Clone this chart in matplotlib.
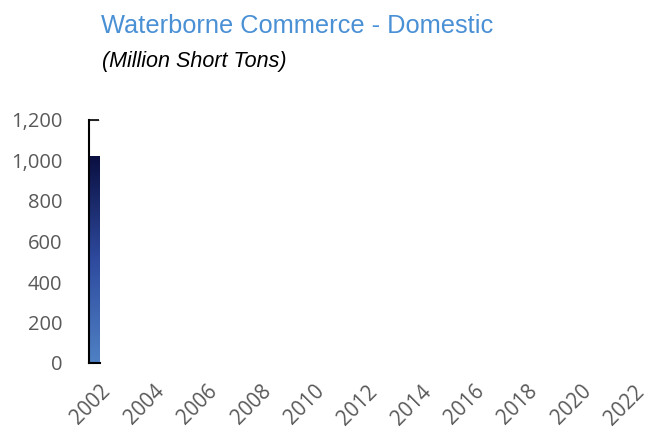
import numpy as np
import matplotlib
matplotlib.use("Agg")
import matplotlib.pyplot as plt
from matplotlib.colors import LinearSegmentedColormap

years = [2002]
tons = [1020]
tick_years = list(range(2002, 2023, 2))
y_ticks = [0, 200, 400, 600, 800, 1000, 1200]

W, H = 649, 432
fig = plt.figure(figsize=(W / 100, H / 100), dpi=100)

# the plot area is squeezed to one bar width
left, right, top, bottom = 89, 100, 120, 363
ax = fig.add_axes([left / W, 1 - bottom / H, (right - left) / W, (bottom - top) / H])

cmap = LinearSegmentedColormap.from_list("bar", ["#4f81c4", "#2e4a9e", "#0a0f40"])
bars = ax.bar(years, tons, width=1.0, color="none")
for b in bars:
    x0, y0 = b.get_x(), b.get_y()
    grad = np.linspace(0, 1, 256).reshape(-1, 1)
    ax.imshow(grad, cmap=cmap, aspect="auto", origin="lower",
              extent=[x0, x0 + b.get_width(), y0, y0 + b.get_height()], zorder=2)
ax.set_xlim(2001.5, 2002.5)
ax.set_ylim(0, 1200)
ax.axhline(1200, color="#d9d9d9", lw=1, zorder=0)

for s in ["top", "right"]:
    ax.spines[s].set_visible(False)
ax.spines["left"].set_linewidth(1.5)
ax.spines["bottom"].set_linewidth(1.5)
ax.set_yticks(y_ticks)
ax.set_yticklabels([f"{v:,}" for v in y_ticks], fontsize=14.5, color="#595959",
                   family="Open Sans")
ax.tick_params(axis="y", direction="in", length=7, width=1.2, pad=19)
ax.set_xticks([])

# year labels along a wider, invisible axis
lab = fig.add_axes([100 / W, 1 - bottom / H, (634 - 100) / W, 0.001])
lab.set_xlim(2002, 2022)
lab.set_xticks(tick_years)
lab.set_xticklabels([str(y) for y in tick_years], rotation=45, ha="right",
                    rotation_mode="anchor", fontsize=14.8, color="#595959",
                    family="Open Sans")
lab.tick_params(axis="x", length=0, pad=13)
lab.set_yticks([])
for s in lab.spines.values():
    s.set_visible(False)
lab.patch.set_visible(False)

fig.text(101 / W, 1 - 33 / H, "Waterborne Commerce - Domestic", color="#4a90d5",
         fontsize=18.3, family="Liberation Sans")
fig.text(102 / W, 1 - 67 / H, "(Million Short Tons)", color="black",
         fontsize=15.5, style="italic", family="Liberation Sans")

fig.savefig("out.png", dpi=100)
